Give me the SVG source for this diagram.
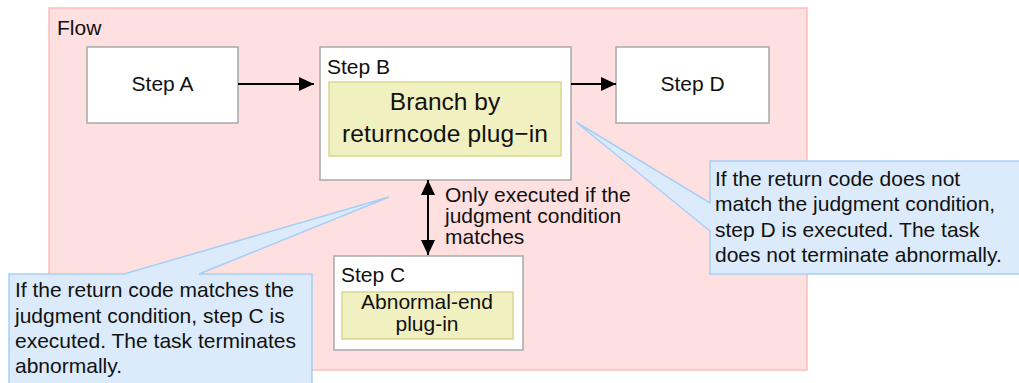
<svg xmlns="http://www.w3.org/2000/svg" width="1019" height="383" viewBox="0 0 1019 383">
<defs>
<marker id="ah" markerUnits="userSpaceOnUse" markerWidth="15" markerHeight="14" viewBox="0 0 15 14" refX="15" refY="7" orient="auto-start-reverse">
<path d="M0,0 L15,7 L0,14 Z" fill="#000"/>
</marker>
</defs>
<style>
text{font-family:"Liberation Sans",Arial,sans-serif;font-size:21px;fill:#111}
.box{fill:#fff;stroke:#a8a8a8;stroke-width:1.5}
.plug{fill:#f0f0c0;stroke:#d8d890;stroke-width:1.5}
.call{fill:#dcebfc;stroke:#a6cff5;stroke-width:1.5}
.c{text-anchor:middle}
.con{stroke:#000;stroke-width:2;fill:none}
</style>
<g id="flow">
<rect x="49" y="8" width="758" height="362" fill="#ffe0e0" stroke="#ffbcbc" stroke-width="1.5"/>
<text x="57" y="35">Flow</text>
</g>
<g id="stepA">
<rect class="box" x="87" y="47" width="151" height="76"/>
<text class="c" x="162.5" y="91">Step A</text>
</g>
<g id="stepB">
<rect class="box" x="320" y="47" width="251" height="133"/>
<text x="327" y="74">Step B</text>
<rect class="plug" x="329" y="82" width="232" height="74"/>
<text class="c" x="445" y="110" style="font-size:24.5px">Branch by</text>
<text class="c" x="445" y="142" style="font-size:24.5px" textLength="206" lengthAdjust="spacing">returncode plug−in</text>
</g>
<g id="stepD">
<rect class="box" x="616" y="47" width="153" height="76"/>
<text class="c" x="692.5" y="91">Step D</text>
</g>
<g id="stepC">
<rect class="box" x="334" y="256" width="189" height="94"/>
<text x="341" y="282">Step C</text>
<rect class="plug" x="342" y="292" width="171" height="47"/>
<text class="c" x="427" y="309">Abnormal-end</text>
<text class="c" x="427" y="331">plug-in</text>
</g>
<g id="connectors">
<line class="con" x1="238" y1="84" x2="314" y2="84" marker-end="url(#ah)"/>
<line class="con" x1="571" y1="84" x2="616" y2="84" marker-end="url(#ah)"/>
<line class="con" x1="428" y1="180" x2="428" y2="255" marker-start="url(#ah)" marker-end="url(#ah)"/>
</g>
<g id="conditionLabel">
<text x="445" y="201.5">Only executed if the</text>
<text x="445" y="222.5">judgment condition</text>
<text x="445" y="243.5">matches</text>
</g>
<g id="calloutD">
<path class="call" d="M710,161 H1026 V274 H710 V231 L576,122 L710,203 Z"/>
<text x="715" y="186">If the return code does not</text>
<text x="715" y="211">match the judgment condition,</text>
<text x="715" y="237">step D is executed. The task</text>
<text x="715" y="262">does not terminate abnormally.</text>
</g>
<g id="calloutC">
<path class="call" d="M9,274 H124 L389,197 L199,274 H312 V392 H9 Z"/>
<text x="15" y="297">If the return code matches the</text>
<text x="15" y="323">judgment condition, step C is</text>
<text x="15" y="348">executed. The task terminates</text>
<text x="15" y="373">abnormally.</text>
</g>
</svg>
